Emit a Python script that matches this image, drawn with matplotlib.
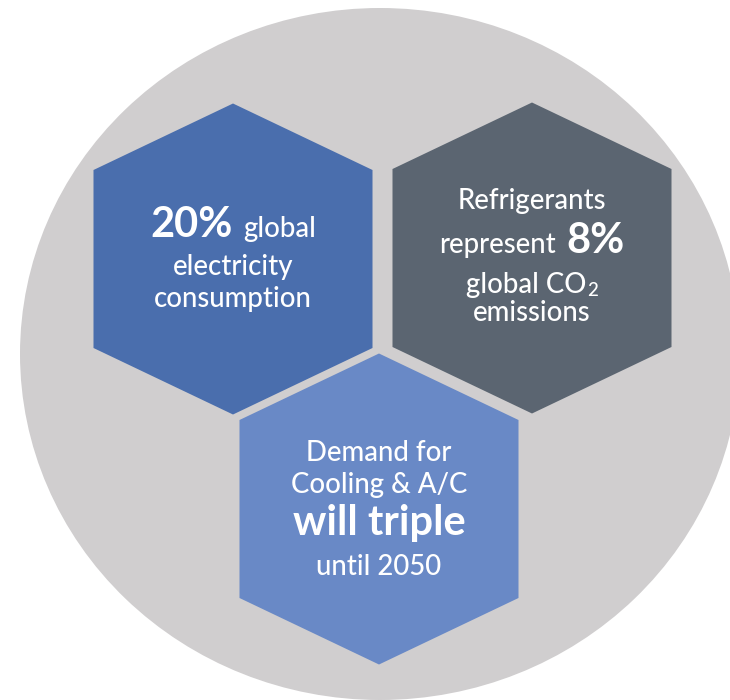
import matplotlib
matplotlib.use("Agg")
import matplotlib.pyplot as plt
from matplotlib.patches import Ellipse, Polygon

W, H = 730, 700
plt.rcParams['font.family'] = ['Lato', 'DejaVu Sans']

# ---- tiles -------------------------------------------------------------
tile_names = ['electricity', 'refrigerants', 'cooling']
tile_cx = [233, 532, 379]
tile_cy = [259, 258, 509]
tile_colors = ['#4a6ead', '#5b6571', '#6989c6']

# ---- headline figures ----------------------------------------------------
electricity_share = '20%'
refrigerant_share = '8%'
cooling_growth = 'will triple'

# each line is a list of (text, style) pieces
electricity_lines = [
    [(electricity_share, 'bold'), ('global', 'normal')],
    [('electricity', 'normal')],
    [('consumption', 'normal')],
]
refrigerant_lines = [
    [('Refrigerants', 'normal')],
    [('represent', 'normal'), (refrigerant_share, 'bold')],
    [('global CO', 'normal'), ('2', 'sub')],
    [('emissions', 'normal')],
]
cooling_lines = [
    [('Demand for', 'normal')],
    [('Cooling & A/C', 'normal')],
    [(cooling_growth, 'bold')],
    [('until 2050', 'normal')],
]
tile_lines = [electricity_lines, refrigerant_lines, cooling_lines]
tile_baselines = [[237, 275, 307], [209, 253, 293, 321], [461, 493, 535, 575]]

HEX_W, HEX_H, HEX_SIDE = 279, 311, 178
WORD_GAP = 11
STYLE = {
    'normal': dict(fontsize=19.8, fontweight='medium'),
    'bold': dict(fontsize=30, fontweight='bold'),
    'sub': dict(fontsize=13.5, fontweight='medium'),
}
SUB_DROP = 3

fig = plt.figure(figsize=(W / 100, H / 100), dpi=100)
ax = fig.add_axes([0, 0, 1, 1])
ax.set_xlim(0, W)
ax.set_ylim(H, 0)
ax.axis('off')
renderer = fig.canvas.get_renderer()

ax.add_patch(Ellipse((380, 354), 720, 692, facecolor='#d0cecf', edgecolor='none'))


def hexagon(cx, cy):
    hw, hh, hs = HEX_W / 2, HEX_H / 2, HEX_SIDE / 2
    return [(cx, cy - hh), (cx + hw, cy - hs), (cx + hw, cy + hs),
            (cx, cy + hh), (cx - hw, cy + hs), (cx - hw, cy - hs)]


def place_line(cx, y, pieces):
    texts = []
    for s, style in pieces:
        dy = SUB_DROP if style == 'sub' else 0
        t = ax.text(0, y + dy, s, ha='left', va='baseline', color='white',
                    **STYLE[style])
        texts.append((t, style))
    widths = [t.get_window_extent(renderer).width for t, _ in texts]
    gaps = [1 if st == 'sub' else WORD_GAP for _, st in texts[1:]]
    x = cx - (sum(widths) + sum(gaps)) / 2
    for i, ((t, _), w) in enumerate(zip(texts, widths)):
        t.set_x(x)
        x += w + (gaps[i] if i < len(gaps) else 0)


for cx, cy, color, lines, baselines in zip(tile_cx, tile_cy, tile_colors,
                                            tile_lines, tile_baselines):
    ax.add_patch(Polygon(hexagon(cx, cy), closed=True, facecolor=color,
                         edgecolor='none'))
    for pieces, y in zip(lines, baselines):
        place_line(cx, y, pieces)

fig.savefig('out.png', dpi=100, facecolor='white')
